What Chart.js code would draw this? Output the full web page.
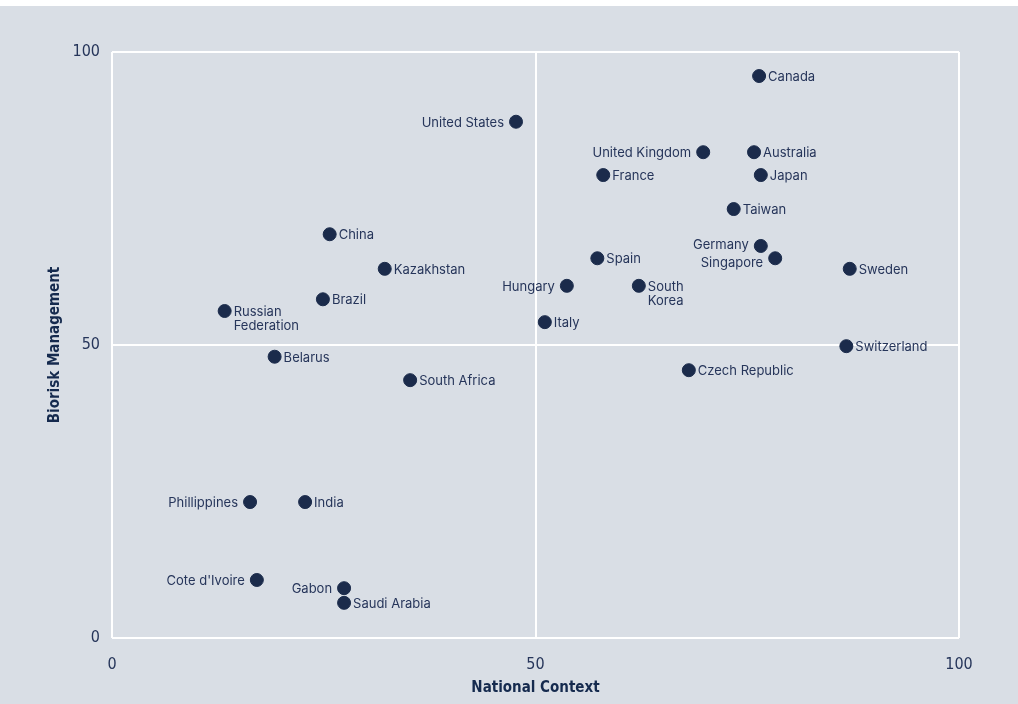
<!DOCTYPE html>
<html>
<head>
<meta charset="utf-8">
<script src="https://cdn.jsdelivr.net/npm/chart.js@4"></script>
<style>
  html, body { margin: 0; padding: 0; }
  body { width: 1018px; height: 704px; background: #d9dee5; position: relative; overflow: hidden; }
  .topStrip { position: absolute; left: 0; top: 0; width: 1018px; height: 6px; background: #ffffff; }
  #wrap { position: absolute; left: 0; top: 0; width: 1018px; height: 704px; }
</style>
</head>
<body>
<div class="topStrip"></div>
<div id="wrap"><canvas id="chart"></canvas></div>
<script>
// ─── DATA ──────────────────────────────────────────────
const countries = [
  'Canada', 'United States', 'United Kingdom', 'Australia', 'France',
  'Japan', 'Taiwan', 'Germany', 'Singapore', 'Sweden',
  'China', 'Kazakhstan', 'Spain', 'Hungary', 'South Korea',
  'Brazil', 'Russian Federation', 'Italy', 'Switzerland', 'Belarus',
  'Czech Republic', 'South Africa', 'Phillippines', 'India',
  "Cote d'Ivoire", 'Gabon', 'Saudi Arabia'
];
const nationalContext = [
  76.4, 47.7, 69.8, 75.8, 58.0,
  76.6, 73.4, 76.6, 78.3, 87.1,
  25.7, 32.2, 57.3, 53.7, 62.2,
  24.9, 13.3, 51.1, 86.7, 19.2,
  68.1, 35.2, 16.3, 22.8,
  17.1, 27.4, 27.4
];
const bioriskManagement = [
  95.9, 88.1, 82.9, 82.9, 79.0,
  79.0, 73.2, 66.9, 64.8, 63.0,
  68.9, 63.0, 64.8, 60.1, 60.1,
  57.8, 55.8, 53.9, 49.8, 48.0,
  45.7, 44.0, 23.2, 23.2,
  9.9, 8.5, 6.0
];
const axisTicks = [0, 50, 100];

// Multi-line labels
const labelLines = {
  'Russian Federation': ['Russian', 'Federation'],
  'South Korea': ['South', 'Korea']
};
// Labels drawn on the left of their point
const leftLabels = ['United States', 'United Kingdom', 'Hungary', 'Germany',
  'Singapore', 'Phillippines', "Cote d'Ivoire", 'Gabon'];

const navy = '#1b2b4b';
const textColor = '#26355a';

// ─── POINT LABEL PLUGIN ────────────────────────────────
const pointLabels = {
  id: 'pointLabels',
  afterDatasetsDraw(chart) {
    const ctx = chart.ctx;
    const meta = chart.getDatasetMeta(0);
    ctx.save();
    ctx.font = '13px Inter, "Noto Sans", sans-serif';
    ctx.fillStyle = textColor;
    ctx.textBaseline = 'middle';
    meta.data.forEach((pt, i) => {
      const name = countries[i];
      const lines = labelLines[name] || [name];
      const left = leftLabels.includes(name);
      let dy = 1;
      if (name === 'Singapore') dy = 5;
      if (name === 'Germany') dy = -1;
      ctx.textAlign = left ? 'right' : 'left';
      const x = left ? pt.x - 12 : pt.x + 9;
      lines.forEach((line, j) => {
        ctx.fillText(line, x, pt.y + dy + j * 14);
      });
    });
    ctx.restore();
  }
};

// ─── CHART ─────────────────────────────────────────────
const tickFont = { family: '"Liberation Sans Narrow", "DejaVu Sans Condensed", sans-serif', size: 16 };
const titleFont = { family: '"Liberation Sans Narrow", "DejaVu Sans Condensed", sans-serif', size: 15, weight: 'bold' };

new Chart(document.getElementById('chart'), {
  type: 'scatter',
  data: {
    datasets: [{
      label: 'Countries',
      data: countries.map((c, i) => ({ x: nationalContext[i], y: bioriskManagement[i] })),
      backgroundColor: navy,
      borderColor: navy,
      pointRadius: 6.5,
      pointHoverRadius: 6.5
    }]
  },
  options: {
    responsive: true,
    maintainAspectRatio: false,
    animation: false,
    layout: { padding: { left: 0, right: 59, top: 52, bottom: 0 } },
    plugins: {
      legend: { display: false },
      tooltip: { enabled: false }
    },
    scales: {
      x: {
        type: 'linear',
        min: 0,
        max: 100,
        afterBuildTicks: (scale) => { scale.ticks = axisTicks.map(v => ({ value: v })); },
        afterFit: (scale) => { scale.height = 66; },
        grid: { color: '#ffffff', lineWidth: 2, drawTicks: false },
        border: { display: false },
        ticks: { color: textColor, font: tickFont, padding: 17 },
        title: {
          display: true,
          text: 'National Context',
          color: '#152a4e',
          font: titleFont,
          padding: { top: 0, bottom: 7 }
        }
      },
      y: {
        type: 'linear',
        min: 0,
        max: 100,
        afterBuildTicks: (scale) => { scale.ticks = axisTicks.map(v => ({ value: v })); },
        afterFit: (scale) => { scale.width = 112; },
        grid: { color: '#ffffff', lineWidth: 2, drawTicks: false },
        border: { display: false },
        ticks: { color: textColor, font: tickFont, padding: 12 },
        title: {
          display: true,
          text: 'Biorisk Management',
          color: '#152a4e',
          font: titleFont,
          padding: { top: 46, bottom: 0 }
        }
      }
    }
  },
  plugins: [pointLabels]
});
</script>
</body>
</html>
